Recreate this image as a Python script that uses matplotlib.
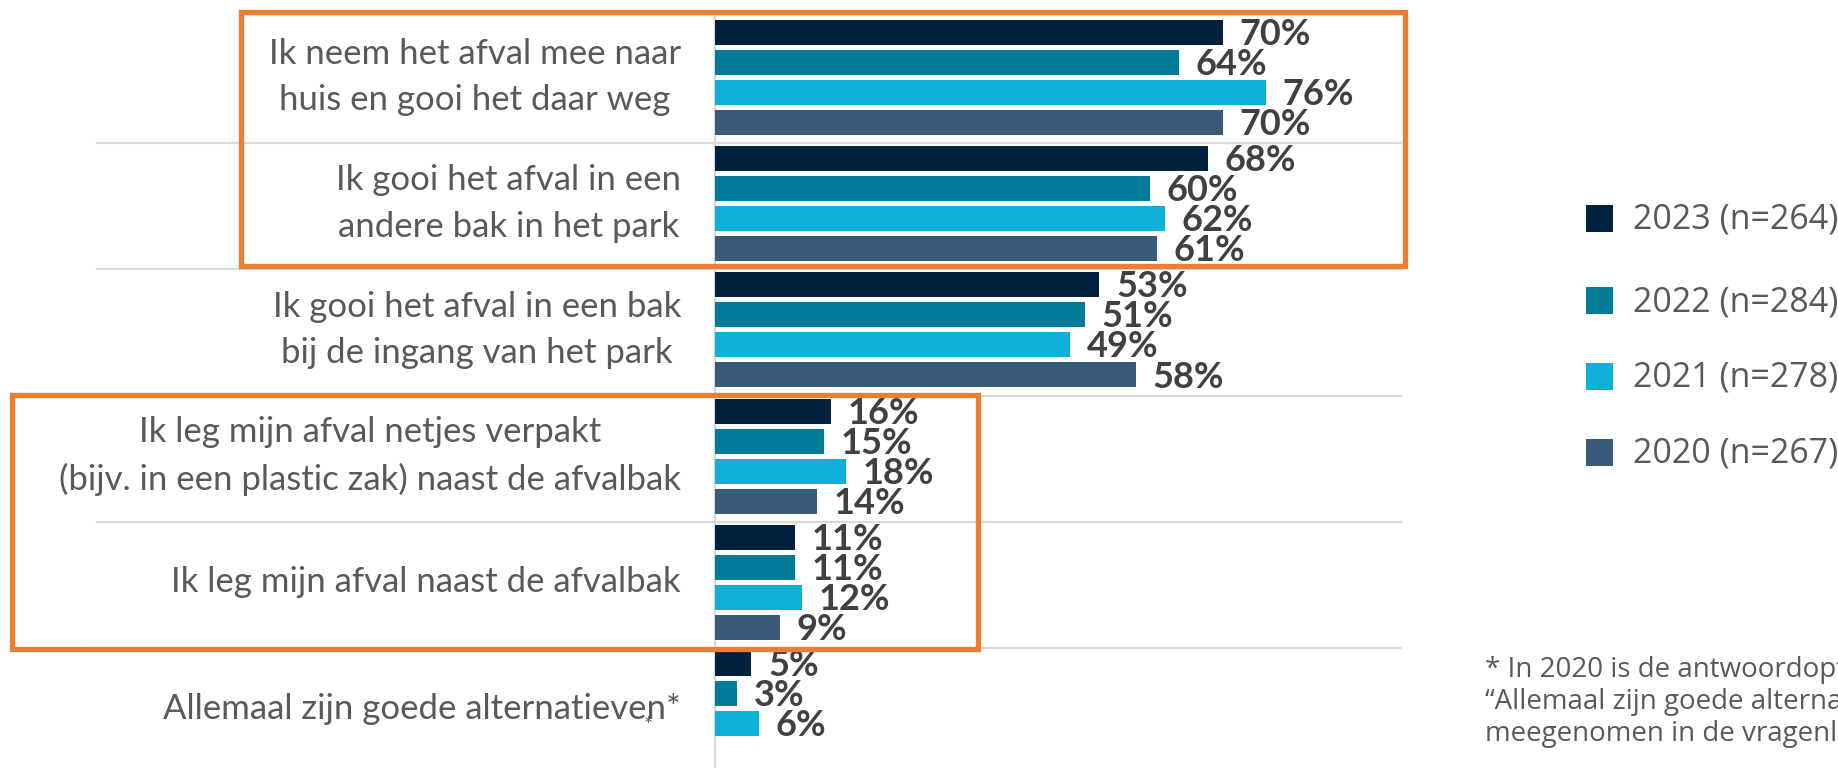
import numpy as np
import matplotlib
matplotlib.use("Agg")
import matplotlib.pyplot as plt
from matplotlib.patches import Rectangle
from matplotlib.transforms import blended_transform_factory

# ---------------- data ----------------
categories = [
    "Ik neem het afval mee naar\nhuis en gooi het daar weg",
    "Ik gooi het afval in een\nandere bak in het park",
    "Ik gooi het afval in een bak\nbij de ingang van het park",
    "Ik leg mijn afval netjes verpakt\n(bijv. in een plastic zak) naast de afvalbak",
    "Ik leg mijn afval naast de afvalbak",
    "Allemaal zijn goede alternatieven*",
]
series_names = ["2023 (n=264)", "2022 (n=284)", "2021 (n=278)", "2020 (n=267)"]
v2023 = [70, 68, 53, 16, 11, 5]
v2022 = [64, 60, 51, 15, 11, 3]
v2021 = [76, 62, 49, 18, 12, 6]
v2020 = [70, 61, 58, 14, 9, np.nan]
series_values = [v2023, v2022, v2021, v2020]
colors = ["#01223F", "#007B98", "#0CB0D8", "#395A78"]
footnote_lines = [
    "* In 2020 is de antwoordoptie",
    "\u201cAllemaal zijn goede alternatieven\u201d niet",
    "meegenomen in de vragenlijst",
]

FONT = "Lato"
FONT2 = "Open Sans"
LABEL_GRAY = "#595959"
VALUE_GRAY = "#404040"
GRID = "#D9D9D9"
ORANGE = "#ED7D31"

W, H = 1838, 768
fig = plt.figure(figsize=(W / 100, H / 100), dpi=100)

def fx(px):
    return px / W

def fy(py):
    return 1 - py / H

# axes placement (pixels)
ax_left, ax_right = 715, 715 + 725
ax_top, ax_bot = 16.75, 774.25
ax = fig.add_axes([fx(ax_left), fy(ax_bot), fx(ax_right) - fx(ax_left), (ax_bot - ax_top) / H])
ax.set_xlim(0, 100)
n = len(categories)
ax.set_ylim(n - 0.5, -0.5)

y = np.arange(n)
bar_h = 0.198
step = 0.238
for k, (vals, col) in enumerate(zip(series_values, colors)):
    off = (k - 1.5) * step - 0.02
    vals = np.array(vals, dtype=float)
    mask = ~np.isnan(vals)
    ax.barh(y[mask] + off, vals[mask], height=bar_h, color=col, zorder=3)
    for yi, v in zip(y[mask] + off, vals[mask]):
        ax.annotate(f"{int(v)}%", xy=(v, yi), xytext=(12, -1.5),
                    textcoords="offset points", ha="left", va="center",
                    fontsize=26, fontweight="bold", color=VALUE_GRAY,
                    family=FONT, zorder=5, annotation_clip=False)

# axes styling
for s in ["top", "right", "bottom"]:
    ax.spines[s].set_visible(False)
ax.spines["left"].set_color(GRID)
ax.spines["left"].set_linewidth(1.6)
ax.set_xticks([])
ax.set_yticks(np.arange(n) + 0.5)
ax.set_yticklabels([])
ax.tick_params(axis="y", length=6, width=1.2, color=GRID, direction="out")

# separators between categories
bt = blended_transform_factory(fig.transFigure, ax.transData)
for b in np.arange(n - 1) + 0.5:
    ax.plot([fx(97), fx(1401)], [b, b], transform=bt, color=GRID,
            lw=1.6, clip_on=False, zorder=1)

# category labels
for yi, lab in zip(y, categories):
    ax.text(fx(681), yi - 0.02, lab, transform=bt, ha="right", va="center",
            multialignment="center", fontsize=25, color=LABEL_GRAY,
            family=FONT, linespacing=1.55)
# stray asterisk in reference
fig.text(fx(648), fy(726), "*", ha="center", va="center", fontsize=15,
         color=LABEL_GRAY, family=FONT)

# orange highlight boxes
for (x0, y0, x1, y1) in [(241, 12.5, 1404.5, 265.5), (12, 394.5, 977.5, 648.5)]:
    fig.patches.append(Rectangle((fx(x0), fy(y1)), fx(x1) - fx(x0), fy(y0) - fy(y1),
                                 transform=fig.transFigure, fill=False,
                                 edgecolor=ORANGE, lw=3.8, zorder=10))

# legend (manual)
leg_y = [218, 301, 376, 452]
for name, col, ly in zip(series_names, colors, leg_y):
    fig.patches.append(Rectangle((fx(1586), fy(ly + 13.5)), fx(27), 27 / H,
                                 transform=fig.transFigure, facecolor=col,
                                 edgecolor="none"))
    fig.text(fx(1633), fy(ly + 1), name, ha="left", va="center", fontsize=24.5,
             color=LABEL_GRAY, family=FONT2)

# footnote
for i, line in enumerate(footnote_lines):
    fig.text(fx(1485), fy(677 + i * 32), line, ha="left", va="baseline",
             fontsize=20, color=LABEL_GRAY, family=FONT2)

fig.savefig("out.png", dpi=100)
